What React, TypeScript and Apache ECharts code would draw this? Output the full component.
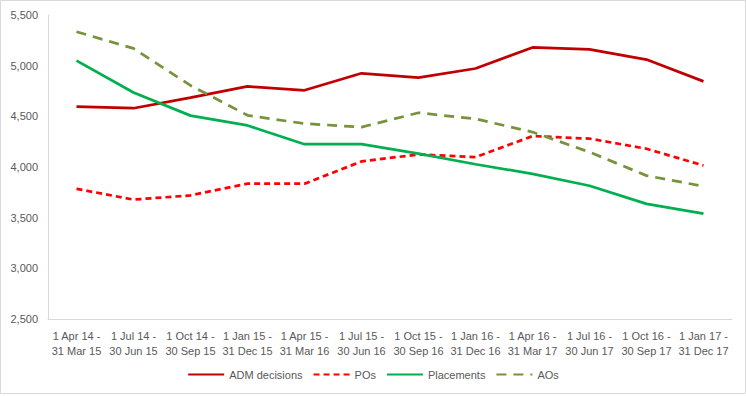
import React, { useEffect, useRef } from "react";
import * as echarts from "echarts";

const categories = [
  "1 Apr 14 -\n31 Mar 15",
  "1 Jul 14 -\n30 Jun 15",
  "1 Oct 14 -\n30 Sep 15",
  "1 Jan 15 -\n31 Dec 15",
  "1 Apr 15 -\n31 Mar 16",
  "1 Jul 15 -\n30 Jun 16",
  "1 Oct 15 -\n30 Sep 16",
  "1 Jan 16 -\n31 Dec 16",
  "1 Apr 16 -\n31 Mar 17",
  "1 Jul 16 -\n30 Jun 17",
  "1 Oct 16 -\n30 Sep 17",
  "1 Jan 17 -\n31 Dec 17",
];

const admDecisions = [4595, 4580, 4685, 4795, 4757, 4925, 4883, 4972, 5180, 5160, 5060, 4845];
const pos = [3785, 3678, 3720, 3835, 3835, 4055, 4124, 4097, 4305, 4280, 4180, 4015];
const placements = [5050, 4735, 4507, 4410, 4225, 4225, 4131, 4027, 3933, 3815, 3636, 3540];
const aos = [5335, 5170, 4805, 4510, 4428, 4394, 4535, 4475, 4345, 4147, 3915, 3810];

const FONT = "Liberation Sans";

export default function App() {
  const ref = useRef<HTMLDivElement>(null);
  useEffect(() => {
    if (!ref.current) return;
    const chart = echarts.init(ref.current, undefined, { renderer: "svg" });
    chart.setOption({
      animation: false,
      backgroundColor: "#ffffff",
      textStyle: { fontFamily: FONT },
      graphic: [
        {
          type: "rect",
          shape: { x: 0.5, y: 0.5, width: 745, height: 393 },
          style: { fill: "none", stroke: "#d9d9d9", lineWidth: 1 },
          silent: true,
        },
      ],
      grid: { left: 48, right: 14, top: 15, bottom: 77, containLabel: false },
      legend: {
        top: 364,
        left: "center",
        itemWidth: 36,
        itemHeight: 10,
        itemGap: 10,
        itemStyle: { opacity: 0 },
        textStyle: { color: "#595959", fontSize: 11, fontFamily: FONT },
        data: ["ADM decisions", "POs", "Placements", "AOs"],
      },
      xAxis: {
        type: "category",
        data: categories,
        boundaryGap: true,
        axisLine: { show: true, lineStyle: { color: "#d9d9d9", width: 1 } },
        axisTick: { show: false },
        axisLabel: {
          color: "#595959",
          fontSize: 11,
          fontFamily: FONT,
          interval: 0,
          margin: 9,
          lineHeight: 15,
        },
      },
      yAxis: {
        type: "value",
        min: 2500,
        max: 5500,
        interval: 500,
        axisLine: { show: true, lineStyle: { color: "#d9d9d9", width: 1 } },
        axisTick: { show: false },
        splitLine: { show: false },
        axisLabel: {
          color: "#595959",
          fontSize: 11,
          fontFamily: FONT,
          margin: 10,
          formatter: (v: number) => v.toLocaleString("en-US"),
        },
      },
      series: [
        {
          name: "ADM decisions",
          type: "line",
          data: admDecisions,
          symbol: "none",
          lineStyle: { color: "#C00000", width: 2.75 },
          itemStyle: { color: "#C00000" },
        },
        {
          name: "POs",
          type: "line",
          data: pos,
          symbol: "none",
          lineStyle: { color: "#FF0000", width: 2.75, type: [6, 4] },
          itemStyle: { color: "#FF0000" },
        },
        {
          name: "Placements",
          type: "line",
          data: placements,
          symbol: "none",
          lineStyle: { color: "#00B050", width: 2.75 },
          itemStyle: { color: "#00B050" },
        },
        {
          name: "AOs",
          type: "line",
          data: aos,
          symbol: "none",
          lineStyle: { color: "#77933C", width: 2.75, type: [10, 7] },
          itemStyle: { color: "#77933C" },
        },
      ],
    });
    return () => chart.dispose();
  }, []);
  return (
    <div
      ref={ref}
      style={{ position: "absolute", left: 0, top: 0, width: 746, height: 396 }}
    />
  );
}
